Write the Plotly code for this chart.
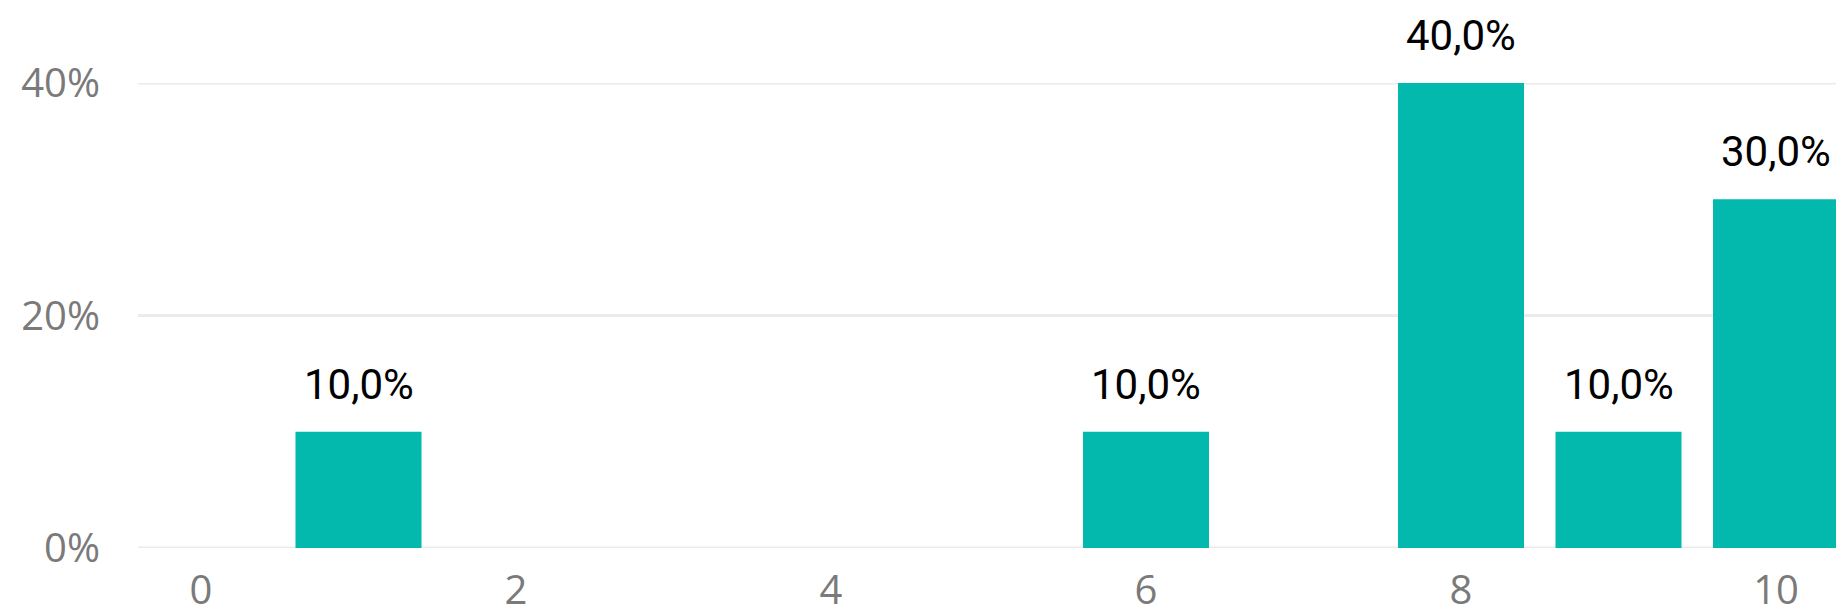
import plotly.graph_objects as go

scores = [0, 1, 2, 3, 4, 5, 6, 7, 8, 9, 10]
shares = [0, 10, 0, 0, 0, 0, 10, 0, 40, 10, 30]
y_ticks = [0, 20, 40]
y_tick_labels = ["0%", "20%", "40%"]
x_ticks = [0, 2, 4, 6, 8, 10]

BAR = "#03b8ac"
GRID = "#ebebeb"

fig = go.Figure()

for t in y_ticks:
    fig.add_shape(type="line", xref="paper", yref="y", x0=0, x1=1, y0=t, y1=t,
                  line=dict(color=GRID, width=3), layer="below")

fig.add_trace(go.Bar(x=scores, y=shares, marker_color=BAR, width=0.8,
                     marker_line_width=0, hoverinfo="skip", cliponaxis=False))

for s, v in zip(scores, shares):
    if v > 0:
        fig.add_annotation(x=s, y=v, text=f"{v:.1f}%".replace(".", ","),
                           showarrow=False, yanchor="bottom", yshift=21,
                           font=dict(family="Roboto", size=42, color="#000000"))

fig.update_layout(
    width=1836, height=607,
    margin=dict(l=130, r=5, t=75, b=67, autoexpand=False),
    plot_bgcolor="white", paper_bgcolor="white",
    showlegend=False,
    bargap=0.2,
)
fig.update_xaxes(range=[-0.4, 10.4], tickvals=x_ticks, showgrid=False,
                 zeroline=False, showline=False, ticks="", automargin=False,
                 ticklabelstandoff=15,
                 tickfont=dict(family="Open Sans", size=40, color="#7a7a7a"))
fig.update_yaxes(range=[0, 40], tickvals=y_ticks, ticktext=y_tick_labels,
                 showgrid=False, zeroline=False, showline=False, ticks="",
                 automargin=False, ticklabelstandoff=37,
                 tickfont=dict(family="Open Sans", size=40, color="#7a7a7a"))

fig.write_html("out.html")
